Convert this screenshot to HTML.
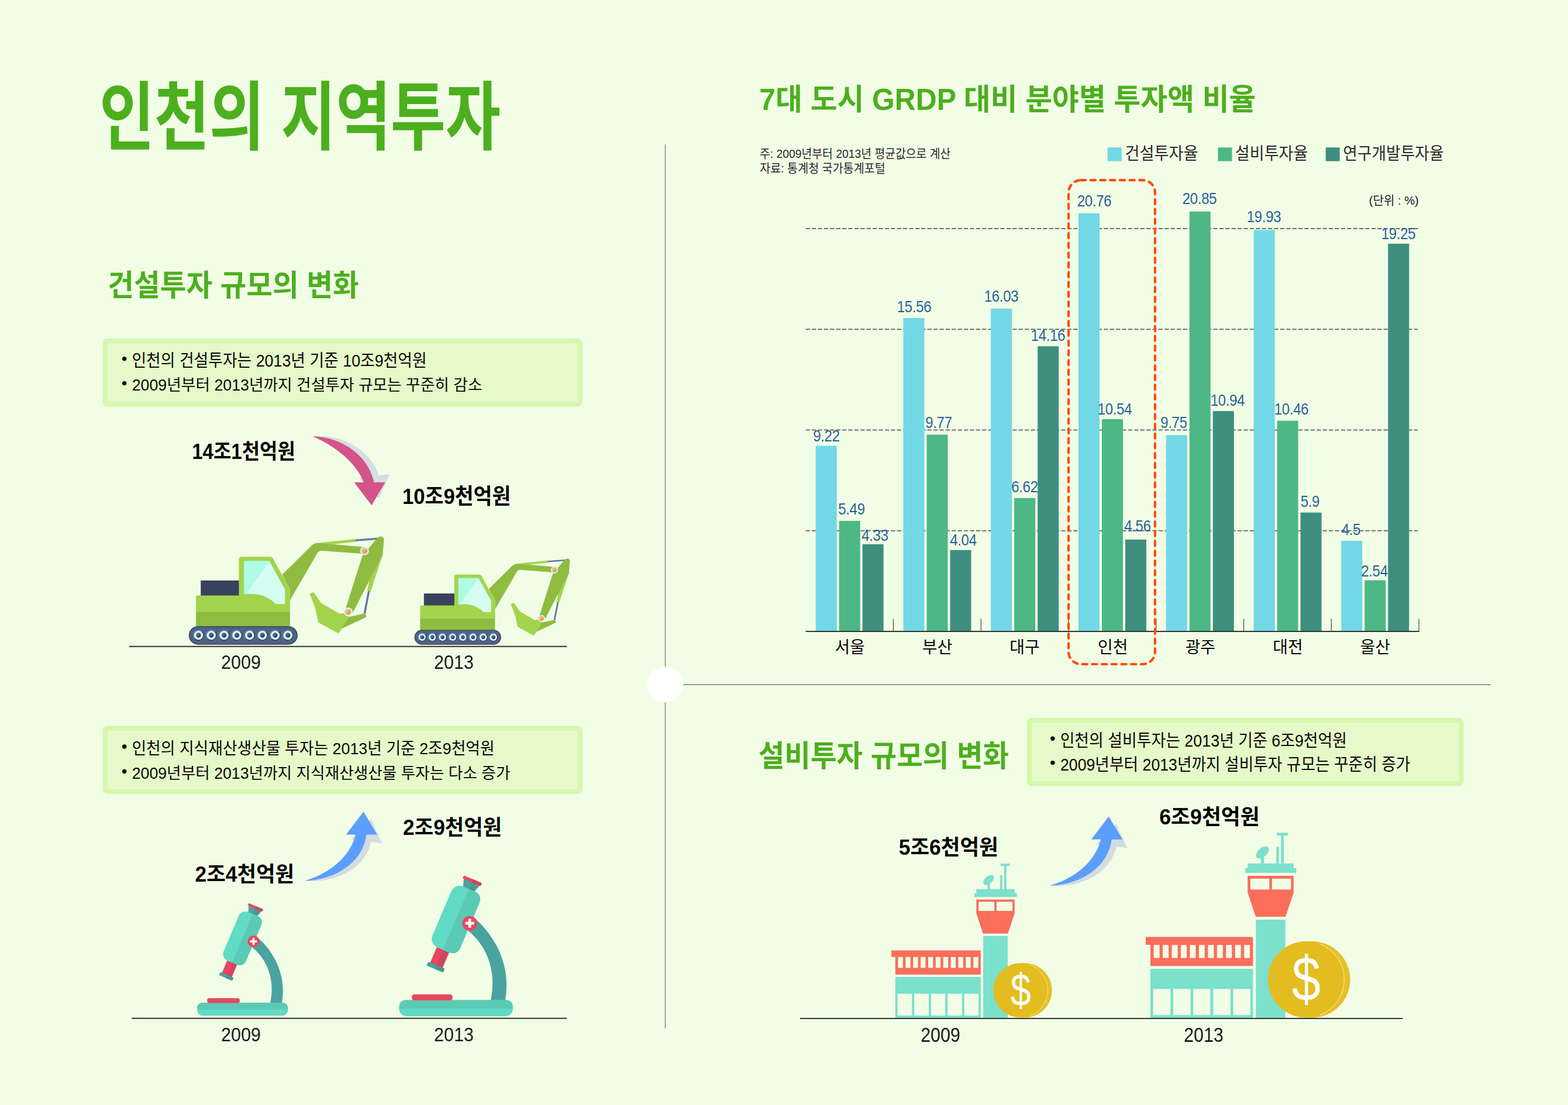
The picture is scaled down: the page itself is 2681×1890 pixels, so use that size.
<!DOCTYPE html>
<html lang="ko"><head><meta charset="utf-8"><title>인천의 지역투자</title>
<style>
html,body{margin:0;padding:0;background:#f2fde6}
#page{position:relative;width:2681px;height:1890px;overflow:hidden;background:#f2fde6;font-family:"Liberation Sans",sans-serif}
#page svg.main{position:absolute;left:0;top:0}
#page svg.main text{font-family:"Liberation Sans","Noto Sans CJK KR",sans-serif}
.yr,.val{will-change:transform}
.yr{position:absolute;color:#151515;line-height:1;white-space:nowrap;transform-origin:50% 50%}
.val{position:absolute;color:#215d96;font-size:28px;line-height:1;white-space:nowrap;transform:translateX(-50%) scaleX(.865);letter-spacing:-0.5px}
</style></head><body>
<div id="page">
<svg class="main" width="2681" height="1890" viewBox="0 0 2681 1890">
<path d="M1137.5 247V1758.7" stroke="#808080" stroke-width="1.4" fill="none"/><path d="M1168 1170.9H2548.6" stroke="#999" stroke-width="2" fill="none"/>
<circle cx="1137.5" cy="1170.8" r="30.6" fill="#fff"/>
<text x="170" y="246" font-size="128" font-weight="bold" fill="#4caf1e" textLength="686" lengthAdjust="spacingAndGlyphs">인천의 지역투자</text>
<text x="184.26" y="505.68" font-size="51" font-weight="bold" fill="#4caf1e" textLength="429.4" lengthAdjust="spacingAndGlyphs">건설투자 규모의 변화</text>
<text x="1298.34" y="188.43" font-size="51" font-weight="bold" fill="#4caf1e" textLength="849.1" lengthAdjust="spacingAndGlyphs">7대 도시 GRDP 대비 분야별 투자액 비율</text>
<text x="1296.77" y="1310.68" font-size="51" font-weight="bold" fill="#4caf1e" textLength="428.4" lengthAdjust="spacingAndGlyphs">설비투자 규모의 변화</text>
<rect x="175.5" y="579.0" width="820.5" height="116.6" rx="8.5" fill="#d5f7ae"/>
<rect x="183.8" y="587.3" width="803.9" height="100.0" rx="1.5" fill="#e5fac8"/>
<rect x="175.5" y="1241.6" width="820.5" height="116.4" rx="8.5" fill="#d5f7ae"/>
<rect x="183.8" y="1249.9" width="803.9" height="99.8" rx="1.5" fill="#e5fac8"/>
<rect x="1755.9" y="1228.0" width="746.6" height="116.4" rx="8.5" fill="#d5f7ae"/>
<rect x="1764.2" y="1236.3" width="730.0" height="99.8" rx="1.5" fill="#e5fac8"/>
<circle cx="212.7" cy="613.6" r="3.7" fill="#080808"/>
<text x="225.43" y="627.33" font-size="29" fill="#080808" textLength="504.2" lengthAdjust="spacingAndGlyphs">인천의 건설투자는 2013년 기준 10조9천억원</text>
<circle cx="212.7" cy="655.6" r="3.7" fill="#080808"/>
<text x="225.74" y="668.39" font-size="27" fill="#080808" textLength="598.8" lengthAdjust="spacingAndGlyphs">2009년부터 2013년까지 건설투자 규모는 꾸준히 감소</text>
<circle cx="212.7" cy="1277.0" r="3.7" fill="#080808"/>
<text x="225.44" y="1290.09" font-size="28" fill="#080808" textLength="620.3" lengthAdjust="spacingAndGlyphs">인천의 지식재산생산물 투자는 2013년 기준 2조9천억원</text>
<circle cx="212.7" cy="1319.5" r="3.7" fill="#080808"/>
<text x="225.75" y="1332.19" font-size="27" fill="#080808" textLength="646.7" lengthAdjust="spacingAndGlyphs">2009년부터 2013년까지 지식재산생산물 투자는 다소 증가</text>
<circle cx="1799.9" cy="1263.3" r="3.7" fill="#080808"/>
<text x="1812.63" y="1276.86" font-size="29" fill="#080808" textLength="490.4" lengthAdjust="spacingAndGlyphs">인천의 설비투자는 2013년 기준 6조9천억원</text>
<circle cx="1799.9" cy="1304.6" r="3.7" fill="#080808"/>
<text x="1812.94" y="1318.09" font-size="29" fill="#080808" textLength="598.4" lengthAdjust="spacingAndGlyphs">2009년부터 2013년까지 설비투자 규모는 꾸준히 증가</text>
<text x="328.14" y="784.71" font-size="36.5" font-weight="bold" fill="#050505" textLength="176.8" lengthAdjust="spacingAndGlyphs">14조1천억원</text>
<text x="687.91" y="861.56" font-size="37" font-weight="bold" fill="#050505" textLength="185.5" lengthAdjust="spacingAndGlyphs">10조9천억원</text>
<text x="689.11" y="1428.10" font-size="36.5" font-weight="bold" fill="#050505" textLength="169.0" lengthAdjust="spacingAndGlyphs">2조9천억원</text>
<text x="333.51" y="1508.30" font-size="36.5" font-weight="bold" fill="#050505" textLength="169.7" lengthAdjust="spacingAndGlyphs">2조4천억원</text>
<text x="1982.18" y="1409.68" font-size="36.8" font-weight="bold" fill="#050505" textLength="171.5" lengthAdjust="spacingAndGlyphs">6조9천억원</text>
<text x="1536.66" y="1462.08" font-size="36.8" font-weight="bold" fill="#050505" textLength="170.2" lengthAdjust="spacingAndGlyphs">5조6천억원</text>
<g stroke="#333" stroke-width="2"><path d="M220.6 1105.7H969.3"/><path d="M225.3 1741.8H969.3"/><path d="M1367.8 1741.9H2398.4"/></g>
<g stroke="#707070" stroke-width="2" stroke-dasharray="7.3 3.1"><path d="M1377.6 907.8H2424"/><path d="M1377.6 735.5H2424"/><path d="M1377.6 563.2H2424"/><path d="M1377.6 391.0H2424"/></g>
<rect x="1394.7" y="762.4" width="36.0" height="317.6" fill="#72d8e5"/>
<rect x="1434.7" y="890.9" width="36.0" height="189.1" fill="#4db786"/>
<rect x="1474.7" y="930.8" width="36.0" height="149.2" fill="#3e8f80"/>
<rect x="1544.5" y="544.0" width="36.0" height="536.0" fill="#72d8e5"/>
<rect x="1584.5" y="743.4" width="36.0" height="336.6" fill="#4db786"/>
<rect x="1624.5" y="940.8" width="36.0" height="139.2" fill="#3e8f80"/>
<rect x="1694.2" y="527.8" width="36.0" height="552.2" fill="#72d8e5"/>
<rect x="1734.2" y="851.9" width="36.0" height="228.1" fill="#4db786"/>
<rect x="1774.2" y="592.2" width="36.0" height="487.8" fill="#3e8f80"/>
<rect x="1844.0" y="364.8" width="36.0" height="715.2" fill="#72d8e5"/>
<rect x="1884.0" y="716.9" width="36.0" height="363.1" fill="#4db786"/>
<rect x="1924.0" y="922.9" width="36.0" height="157.1" fill="#3e8f80"/>
<rect x="1993.8" y="744.1" width="36.0" height="335.9" fill="#72d8e5"/>
<rect x="2033.8" y="361.7" width="36.0" height="718.3" fill="#4db786"/>
<rect x="2073.8" y="703.1" width="36.0" height="376.9" fill="#3e8f80"/>
<rect x="2143.6" y="393.4" width="36.0" height="686.6" fill="#72d8e5"/>
<rect x="2183.6" y="719.7" width="36.0" height="360.3" fill="#4db786"/>
<rect x="2223.6" y="876.7" width="36.0" height="203.3" fill="#3e8f80"/>
<rect x="2293.3" y="925.0" width="36.0" height="155.0" fill="#72d8e5"/>
<rect x="2333.3" y="992.5" width="36.0" height="87.5" fill="#4db786"/>
<rect x="2373.3" y="416.8" width="36.0" height="663.2" fill="#3e8f80"/>
<g stroke="#333" stroke-width="2" fill="none"><path d="M1377.6 1080H2426.7"/><path d="M1527.5 1058.5V1080" stroke-width="1.1"/><path d="M1677.3 1058.5V1080" stroke-width="1.1"/><path d="M1827.0 1058.5V1080" stroke-width="1.1"/><path d="M1976.8 1058.5V1080" stroke-width="1.1"/><path d="M2126.6 1058.5V1080" stroke-width="1.1"/><path d="M2276.3 1058.5V1080" stroke-width="1.1"/><path d="M2426.1 1058.5V1080" stroke-width="1.1"/></g>
<text x="1427.39" y="1116.70" font-size="28" fill="#080808" textLength="51.5" lengthAdjust="spacingAndGlyphs">서울</text>
<text x="1576.76" y="1116.70" font-size="28" fill="#080808" textLength="51.5" lengthAdjust="spacingAndGlyphs">부산</text>
<text x="1726.32" y="1116.70" font-size="28" fill="#080808" textLength="51.5" lengthAdjust="spacingAndGlyphs">대구</text>
<text x="1877.05" y="1116.70" font-size="28" fill="#080808" textLength="51.5" lengthAdjust="spacingAndGlyphs">인천</text>
<text x="2026.64" y="1116.70" font-size="28" fill="#080808" textLength="51.5" lengthAdjust="spacingAndGlyphs">광주</text>
<text x="2176.29" y="1116.70" font-size="28" fill="#080808" textLength="51.5" lengthAdjust="spacingAndGlyphs">대전</text>
<text x="2325.61" y="1116.70" font-size="28" fill="#080808" textLength="51.5" lengthAdjust="spacingAndGlyphs">울산</text>
<rect x="1827.06" y="308.2" width="147.85" height="827.8" rx="21" fill="none" stroke="#fd4c05" stroke-width="4.2" stroke-dasharray="8.3 8.4" stroke-linecap="round"/>
<rect x="1893.8" y="252.2" width="24" height="23.5" fill="#72d8e5"/>
<text x="1923.45" y="273.21" font-size="29" fill="#2b2b2b" textLength="125.0" lengthAdjust="spacingAndGlyphs">건설투자율</text>
<rect x="2082.5" y="252.2" width="24" height="23.5" fill="#4db786"/>
<text x="2111.82" y="273.21" font-size="29" fill="#2b2b2b" textLength="124.6" lengthAdjust="spacingAndGlyphs">설비투자율</text>
<rect x="2266.7" y="252.2" width="24" height="23.5" fill="#3e8f80"/>
<text x="2296.24" y="273.21" font-size="29" fill="#2b2b2b" textLength="172.3" lengthAdjust="spacingAndGlyphs">연구개발투자율</text>
<text x="1298.96" y="269.76" font-size="21" fill="#2a2a2a" textLength="326.3" lengthAdjust="spacingAndGlyphs">주: 2009년부터 2013년 평균값으로 계산</text>
<text x="1299.18" y="295.18" font-size="21" fill="#2a2a2a" textLength="214.6" lengthAdjust="spacingAndGlyphs">자료: 통계청 국가통계포털</text>
<text x="2340.69" y="350.22" font-size="21" fill="#222" textLength="85.1" lengthAdjust="spacingAndGlyphs">(단위 : %)</text>
<defs><path id="arrP" d="M330 250C760 260 1220 520 1330 1000L1510 1000L1290 1375L1005 1000L1160 1000C1090 800 850 480 330 250Z"/><path id="arrB" d="M195 1300C620 1180 940 900 1030 548L873 548L1158 175L1380 548L1205 548C1150 1000 700 1290 195 1300Z"/></defs><g transform="translate(500 720) scale(0.10499)"><use href="#arrP" fill="#d3dfe0" transform="rotate(-6.3 330 250)"/><use href="#arrP" fill="#d4548a"/></g><g transform="translate(500 1370) scale(0.10499)"><use href="#arrB" fill="#d3dde0" transform="rotate(6.5 195 1300)"/><use href="#arrB" fill="#5b9efd"/></g><g transform="translate(1774.2 1378.1) scale(0.10499)"><use href="#arrB" fill="#d3dde0" transform="rotate(6.5 195 1300)"/><use href="#arrB" fill="#5b9efd"/></g>
<defs><g id="excav"><path fill="#8fbc40" d="M1100 528L1425 208Q1452 184 1492 182L1995 228L1990 302L1532 268Q1502 266 1482 296L1185 808V690Z"/><path fill="#a3d44d" d="M1492 182L1900 140L1904 170L1640 198Z"/><path stroke="#5b78a8" stroke-width="20" fill="none" d="M1900 154L2140 136"/><path stroke="#5b78a8" stroke-width="22" fill="none" d="M2046 705L1998 955"/><path fill="#a3d44d" d="M2200 300L2160 420L2064 716L2028 702L2052 585Z"/><path fill="#8fbc40" d="M2138 128Q2178 96 2204 128Q2212 145 2208 170L2195 318L2052 590L1872 940L1790 905L1975 322Z"/><path fill="#a3d44d" d="M1400 735L1443 720L1525 838L1728 955L1822 940L1830 985L1712 1168L1495 1050L1462 900Z"/><path fill="#8fbc40" d="M1826 990L1985 955Q2010 952 2016 978Q2016 992 2005 998L1750 1118L1712 1168Z"/><circle cx="1998" cy="270" r="49" fill="#cfeff8"/><circle cx="1998" cy="270" r="31" fill="#f29a45"/><path fill="#f7b768" d="M1976 292A31 31 0 0 1 2020 248Z" /><circle cx="1820" cy="935" r="49" fill="#cfeff8"/><circle cx="1820" cy="935" r="31" fill="#f29a45"/><path fill="#f7b768" d="M1798 957A31 31 0 0 1 1842 913Z" /><rect x="212" y="592" width="420" height="170" fill="#38425c"/><path fill="#a3d44d" d="M628 365Q628 333 660 333H965Q988 333 1000 352L1185 690V940H628Z"/><path fill="#aefbe6" d="M683 392Q683 378 697 378H945Q958 378 965 390L1130 690V848H683Z"/><path fill="#d6fdf1" d="M960 385L1130 690V848H1000L718 722Z"/><path fill="#a3d44d" d="M160 770Q160 755 175 755H640Q720 735 800 740Q930 750 1030 848H1185V940H160Z"/><rect x="160" y="936" width="1025" height="158" fill="#8fbc40"/><path stroke="#8ab83d" stroke-width="3" d="M622 936V1092"/><rect x="82" y="1090" width="1186" height="203" rx="101" fill="#39455f"/><rect x="92" y="1100" width="1166" height="183" rx="91" fill="#4f6282"/><circle cx="188.0" cy="1190" r="63" fill="#5d7dab"/><path fill="#39455f" d="M232.5 1145.5A63 63 0 0 1 143.5 1234.5Z"/><circle cx="188.0" cy="1190" r="49" fill="#dbf7fd"/><circle cx="188.0" cy="1190" r="27" fill="#3b4763"/><path fill="#566a8f" d="M207.1 1170.9A27 27 0 0 0 168.9 1209.1Z"/><circle cx="327.3" cy="1190" r="63" fill="#5d7dab"/><path fill="#39455f" d="M371.8 1145.5A63 63 0 0 1 282.8 1234.5Z"/><circle cx="327.3" cy="1190" r="49" fill="#dbf7fd"/><circle cx="327.3" cy="1190" r="27" fill="#3b4763"/><path fill="#566a8f" d="M346.4 1170.9A27 27 0 0 0 308.2 1209.1Z"/><circle cx="466.6" cy="1190" r="63" fill="#5d7dab"/><path fill="#39455f" d="M511.1 1145.5A63 63 0 0 1 422.1 1234.5Z"/><circle cx="466.6" cy="1190" r="49" fill="#dbf7fd"/><circle cx="466.6" cy="1190" r="27" fill="#3b4763"/><path fill="#566a8f" d="M485.7 1170.9A27 27 0 0 0 447.5 1209.1Z"/><circle cx="605.9" cy="1190" r="63" fill="#5d7dab"/><path fill="#39455f" d="M650.4 1145.5A63 63 0 0 1 561.4 1234.5Z"/><circle cx="605.9" cy="1190" r="49" fill="#dbf7fd"/><circle cx="605.9" cy="1190" r="27" fill="#3b4763"/><path fill="#566a8f" d="M625.0 1170.9A27 27 0 0 0 586.8 1209.1Z"/><circle cx="745.2" cy="1190" r="63" fill="#5d7dab"/><path fill="#39455f" d="M789.7 1145.5A63 63 0 0 1 700.7 1234.5Z"/><circle cx="745.2" cy="1190" r="49" fill="#dbf7fd"/><circle cx="745.2" cy="1190" r="27" fill="#3b4763"/><path fill="#566a8f" d="M764.3 1170.9A27 27 0 0 0 726.1 1209.1Z"/><circle cx="884.5" cy="1190" r="63" fill="#5d7dab"/><path fill="#39455f" d="M929.0 1145.5A63 63 0 0 1 840.0 1234.5Z"/><circle cx="884.5" cy="1190" r="49" fill="#dbf7fd"/><circle cx="884.5" cy="1190" r="27" fill="#3b4763"/><path fill="#566a8f" d="M903.6 1170.9A27 27 0 0 0 865.4 1209.1Z"/><circle cx="1023.8" cy="1190" r="63" fill="#5d7dab"/><path fill="#39455f" d="M1068.3 1145.5A63 63 0 0 1 979.3 1234.5Z"/><circle cx="1023.8" cy="1190" r="49" fill="#dbf7fd"/><circle cx="1023.8" cy="1190" r="27" fill="#3b4763"/><path fill="#566a8f" d="M1042.9 1170.9A27 27 0 0 0 1004.7 1209.1Z"/><circle cx="1163.1" cy="1190" r="63" fill="#5d7dab"/><path fill="#39455f" d="M1207.6 1145.5A63 63 0 0 1 1118.6 1234.5Z"/><circle cx="1163.1" cy="1190" r="49" fill="#dbf7fd"/><circle cx="1163.1" cy="1190" r="27" fill="#3b4763"/><path fill="#566a8f" d="M1182.2 1170.9A27 27 0 0 0 1144.0 1209.1Z"/></g></defs><use href="#excav" transform="translate(310 900) scale(0.15679)"/><use href="#excav" transform="translate(698.35 941.15) scale(0.12496)"/>
<defs><g id="micro"><path fill="#4ba3a0" d="M880 535C1120 740 1250 1050 1192 1365L1045 1365C1110 1080 1010 820 820 665Z"/><rect x="125" y="1362" width="1143" height="163" rx="72" fill="#62dbc4"/><path fill="#5bcab5" d="M125 1447V1434Q125 1362 197 1362H1196Q1268 1362 1268 1434V1447Z"/><rect x="252" y="1305" width="410" height="60" rx="26" fill="#e8475f"/><g transform="translate(697 546) rotate(23)"><rect x="-67" y="300" width="134" height="210" fill="#e8475f"/><rect x="0" y="300" width="67" height="210" fill="#d2455d"/><rect x="-90" y="505" width="180" height="42" rx="8" fill="#4ba3a0"/><path fill="#479896" d="M0 505H82Q90 505 90 513V539Q90 547 82 547H0Z"/><path fill="#4ba3a0" d="M-86 -402H86L58 -315H-58Z"/><path fill="#479896" d="M0 -402H86L58 -315H0Z"/><rect x="-98" y="-434" width="196" height="34" rx="9" fill="#e8475f"/><path fill="#d2455d" d="M0 -434H89Q98 -434 98 -425V-409Q98 -400 89 -400H0Z"/><rect x="-153" y="-328" width="306" height="666" rx="92" fill="#62dbc4"/><path fill="#5bcab5" d="M0 -328H61Q153 -328 153 -236V246Q153 338 61 338H0Z"/></g><circle cx="835" cy="590" r="74" fill="#e8475f"/><rect x="790" y="576" width="90" height="28" rx="6" fill="#fff"/><rect x="821" y="545" width="28" height="90" rx="6" fill="#fff"/></g></defs><use href="#micro" transform="translate(320 1530) scale(0.13591)"/><use href="#micro" transform="translate(661.25 1478.92) scale(0.17002)"/>
<defs><g id="airp"><rect x="118" y="1170" width="830" height="397" fill="#7be0cc"/><rect x="140" y="1333" width="140" height="212" fill="#f2fde6"/><rect x="302" y="1333" width="141" height="212" fill="#f2fde6"/><rect x="465" y="1333" width="138" height="212" fill="#f2fde6"/><rect x="626" y="1333" width="140" height="212" fill="#f2fde6"/><rect x="788" y="1333" width="139" height="212" fill="#f2fde6"/><rect x="80" y="912" width="868" height="64" fill="#fa6e5c"/><rect x="118" y="975" width="830" height="172" fill="#fa6e5c"/><rect x="145.0" y="977" width="47" height="105" fill="#f2fde6"/><rect x="218.2" y="977" width="47" height="105" fill="#f2fde6"/><rect x="291.3" y="977" width="47" height="105" fill="#f2fde6"/><rect x="364.5" y="977" width="47" height="105" fill="#f2fde6"/><rect x="437.6" y="977" width="47" height="105" fill="#f2fde6"/><rect x="510.8" y="977" width="47" height="105" fill="#f2fde6"/><rect x="583.9" y="977" width="47" height="105" fill="#f2fde6"/><rect x="657.1" y="977" width="47" height="105" fill="#f2fde6"/><rect x="730.2" y="977" width="47" height="105" fill="#f2fde6"/><rect x="803.4" y="977" width="47" height="105" fill="#f2fde6"/><rect x="876.5" y="977" width="47" height="105" fill="#f2fde6"/><rect x="972" y="772" width="238" height="795" fill="#7be0cc"/><path fill="#fa6e5c" d="M905 417H1277V552L1212 748H970L905 552Z"/><rect x="927" y="440" width="153" height="88" fill="#f2fde6"/><rect x="1102" y="440" width="154" height="88" fill="#f2fde6"/><rect x="886" y="355" width="412" height="38" fill="#7be0cc"/><rect x="905" y="317" width="372" height="40" fill="#7be0cc"/><rect x="1175" y="90" width="22" height="230" fill="#7be0cc"/><rect x="1142" y="68" width="88" height="24" fill="#7be0cc"/><rect x="1137" y="182" width="21" height="138" fill="#7be0cc"/><ellipse cx="1025" cy="228" rx="62" ry="36" transform="rotate(-42 1025 228)" fill="#7be0cc"/><rect x="1013" y="255" width="24" height="64" fill="#7be0cc"/></g><g id="coin"><circle cx="40" cy="0" r="265" fill="#e5c12a"/><circle cx="0" cy="0" r="265" fill="#e3bd1f"/><path d="M95 -247A265 265 0 0 1 95 247" fill="none" stroke="#f9efb8" stroke-width="4"/><text x="0" y="147" font-family="Liberation Sans, sans-serif" font-size="438" fill="#fff" text-anchor="middle" transform="scale(.82 1)">$</text></g></defs><use href="#airp" transform="translate(1510 1465) scale(0.17606)"/><use href="#coin" transform="translate(1745 1693.9) scale(0.17606)"/><use href="#airp" transform="translate(1942.07 1409.87) scale(0.21127)"/><use href="#coin" transform="translate(2233.4 1675.4) scale(0.24642)"/>
</svg>
<div class="yr" style="left:412.1px;top:1116.3px;font-size:33.3px;transform:translateX(-50%) scaleX(0.918)">2009</div>
<div class="yr" style="left:775.9px;top:1116.3px;font-size:33.3px;transform:translateX(-50%) scaleX(0.918)">2013</div>
<div class="yr" style="left:412.1px;top:1752.9px;font-size:33.2px;transform:translateX(-50%) scaleX(0.922)">2009</div>
<div class="yr" style="left:775.9px;top:1752.9px;font-size:33.2px;transform:translateX(-50%) scaleX(0.922)">2013</div>
<div class="yr" style="left:1608.2px;top:1752.7px;font-size:34.3px;transform:translateX(-50%) scaleX(0.886)">2009</div>
<div class="yr" style="left:2058.3px;top:1752.7px;font-size:34.3px;transform:translateX(-50%) scaleX(0.886)">2013</div>
<div class="val" style="left:1412.7px;top:732.4px">9.22</div>
<div class="val" style="left:1455.9px;top:856.7px">5.49</div>
<div class="val" style="left:1495.9px;top:901.8px">4.33</div>
<div class="val" style="left:1562.5px;top:510.5px">15.56</div>
<div class="val" style="left:1605.3px;top:708.5px">9.77</div>
<div class="val" style="left:1646.7px;top:910.3px">4.04</div>
<div class="val" style="left:1712.2px;top:492.5px">16.03</div>
<div class="val" style="left:1752.2px;top:819.4px">6.62</div>
<div class="val" style="left:1792.2px;top:559.9px">14.16</div>
<div class="val" style="left:1870.7px;top:330.0px">20.76</div>
<div class="val" style="left:1905.8px;top:685.7px">10.54</div>
<div class="val" style="left:1944.8px;top:885.9px">4.56</div>
<div class="val" style="left:2006.8px;top:708.5px">9.75</div>
<div class="val" style="left:2050.5px;top:326.3px">20.85</div>
<div class="val" style="left:2099.4px;top:670.8px">10.94</div>
<div class="val" style="left:2160.6px;top:356.6px">19.93</div>
<div class="val" style="left:2208.2px;top:685.7px">10.46</div>
<div class="val" style="left:2240.1px;top:843.9px">5.9</div>
<div class="val" style="left:2310.1px;top:891.7px">4.5</div>
<div class="val" style="left:2350.0px;top:962.8px">2.54</div>
<div class="val" style="left:2390.6px;top:385.8px">19.25</div>
</div>
</body></html>
